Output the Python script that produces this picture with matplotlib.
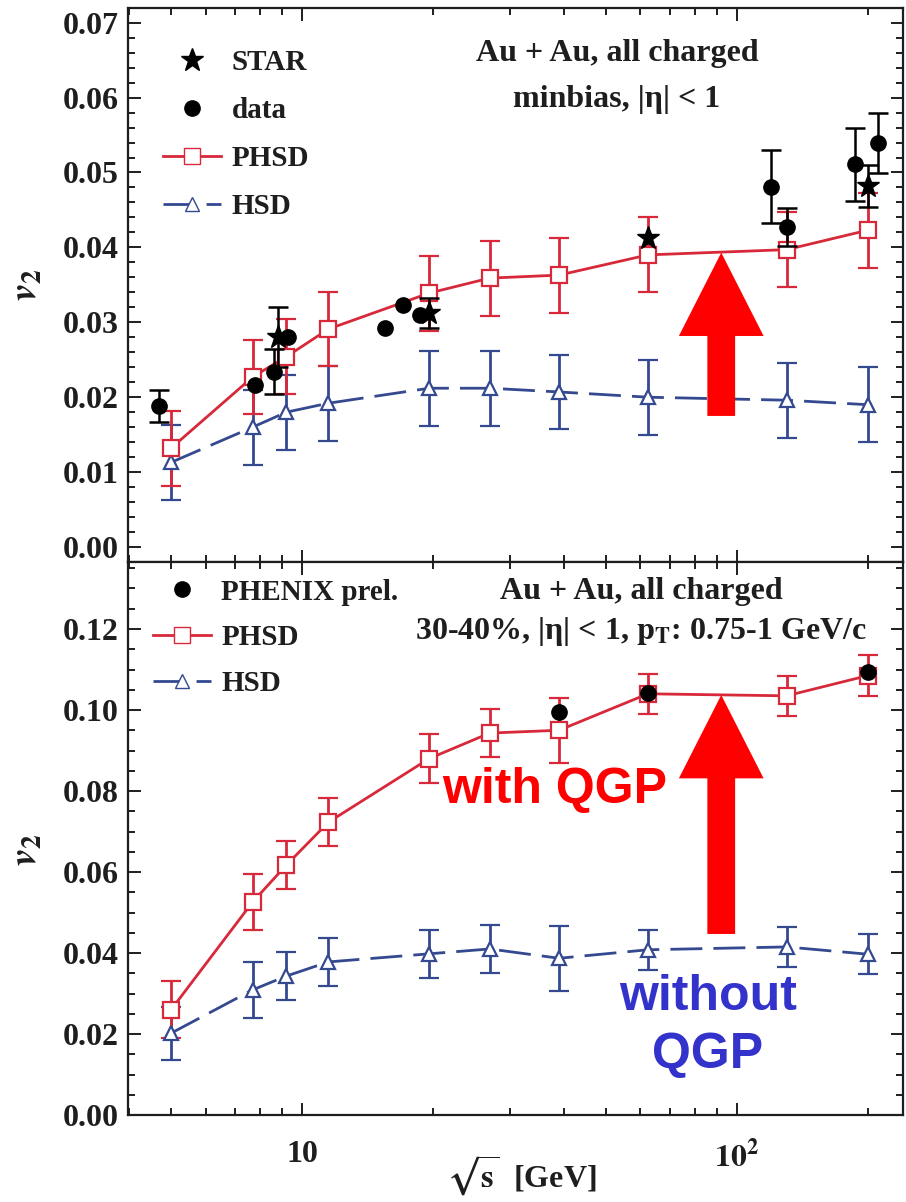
import numpy as np
import matplotlib
matplotlib.use("Agg")
import matplotlib.pyplot as plt
from matplotlib.lines import Line2D
from matplotlib.patches import FancyArrowPatch
from matplotlib.ticker import MultipleLocator, FixedLocator, NullFormatter

plt.rcParams["font.family"] = ["Liberation Serif", "DejaVu Serif"]
plt.rcParams["font.weight"] = "bold"
plt.rcParams["mathtext.fontset"] = "stix"

# collision energies of the transport calculations (GeV)
energy = [5.0, 7.7, 9.2, 11.5, 19.6, 27, 39, 62.4, 130, 200]

# minimum-bias v2, |eta| < 1
phsd_minbias = [0.0132, 0.0227, 0.0254, 0.0291, 0.0339, 0.0359, 0.0363, 0.0390, 0.0397, 0.0423]
phsd_minbias_err = [0.005, 0.005, 0.005, 0.005, 0.005, 0.005, 0.005, 0.005, 0.005, 0.005]
hsd_minbias = [0.0113, 0.0160, 0.0180, 0.0192, 0.0212, 0.0212, 0.0207, 0.0200, 0.0196, 0.0190]
hsd_minbias_err = [0.005, 0.005, 0.005, 0.005, 0.005, 0.005, 0.005, 0.005, 0.005, 0.005]

star_energy = [8.8, 19.6, 62.4, 200]
star_v2 = [0.0280, 0.0312, 0.0412, 0.0482]
star_err = [0.0040, 0.0020, 0.0, 0.0028]

data_energy = [4.7, 7.8, 8.6, 9.3, 15.5, 17.1, 18.7, 120, 130, 187, 211]
data_v2 = [0.0188, 0.0216, 0.0234, 0.0280, 0.0292, 0.0323, 0.0310, 0.0481, 0.0427, 0.0511, 0.0539]
data_err = [0.0021, 0.0, 0.0030, 0.0, 0.0, 0.0, 0.0, 0.0049, 0.0025, 0.0049, 0.0040]

# 30-40% centrality, pT 0.75-1 GeV/c
phsd_central = [0.0260, 0.0526, 0.0617, 0.0723, 0.0880, 0.0943, 0.0950, 0.1040, 0.1035, 0.1085]
phsd_central_err = [0.007, 0.007, 0.006, 0.006, 0.006, 0.006, 0.008, 0.005, 0.005, 0.005]
hsd_central = [0.0202, 0.0309, 0.0343, 0.0378, 0.0398, 0.0410, 0.0387, 0.0408, 0.0415, 0.0397]
hsd_central_err = [0.0065, 0.007, 0.006, 0.006, 0.006, 0.006, 0.008, 0.005, 0.005, 0.005]

phenix_energy = [39, 62.4, 200]
phenix_v2 = [0.0995, 0.1042, 0.1094]

RED = "#d8293a"
BLUE = "#34498f"
INK = "#1e1e1e"

W, H = 906, 1202
fig = plt.figure(figsize=(W / 100, H / 100), dpi=100)


def frac_box(x0, y0, x1, y1):
    return [x0 / W, 1 - y1 / H, (x1 - x0) / W, (y1 - y0) / H]


ax1 = fig.add_axes(frac_box(128, 8, 903, 562))
ax2 = fig.add_axes(frac_box(128, 562, 903, 1115))


def draw_model(ax, y, yerr, color, marker, dashed, ms):
    eb = ax.errorbar(energy, y, yerr=yerr, fmt="-" + marker, color=color,
                     mfc="white", mec=color, mew=1.6, ms=ms, capsize=7,
                     elinewidth=2.0, capthick=2.0, lw=2.0, zorder=3)
    if dashed:
        eb[0].set_dashes([11.5, 4.0])
    return eb


def draw_measured(ax, x, y, err, marker, ms, zorder):
    x, y, err = np.asarray(x), np.asarray(y), np.asarray(err)
    has_err = err > 0
    ax.errorbar(x[has_err], y[has_err], yerr=err[has_err], fmt=marker,
                color="black", ms=ms, capsize=7, elinewidth=1.8,
                capthick=1.8, zorder=zorder)
    ax.plot(x[~has_err], y[~has_err], marker, color="black", ms=ms,
            zorder=zorder)


for ax in (ax1, ax2):
    ax.set_xscale("log")
    ax.set_xlim(3.98, 240.8)
    ax.xaxis.set_major_locator(FixedLocator([10, 100]))
    ax.xaxis.set_minor_locator(FixedLocator(
        [4, 5, 6, 7, 8, 9, 20, 30, 40, 50, 60, 70, 80, 90, 200]))
    ax.xaxis.set_minor_formatter(NullFormatter())
    ax.tick_params(which="both", direction="in", top=True, right=True,
                   colors=INK, labelsize=23, width=1.4)
    ax.tick_params(which="major", length=9)
    ax.tick_params(which="minor", length=5)
    ax.tick_params(axis="y", pad=7)
    for sp in ax.spines.values():
        sp.set_linewidth(1.6)
        sp.set_color(INK)

# ---- upper panel: minimum bias ----
draw_model(ax1, hsd_minbias, hsd_minbias_err, BLUE, "^", True, 10)
draw_model(ax1, phsd_minbias, phsd_minbias_err, RED, "s", False, 11)
draw_measured(ax1, data_energy, data_v2, data_err, "o", 11, 5)
draw_measured(ax1, star_energy, star_v2, star_err, "*", 17, 6)
ax1.set_ylim(-0.002, 0.07196)
ax1.yaxis.set_minor_locator(MultipleLocator(0.002))
ticks1 = np.arange(0, 0.0701, 0.01)
ax1.set_yticks(ticks1)
ax1.set_yticklabels([f"{v:.2f}" for v in ticks1], fontweight="bold")
ax1.set_xticklabels([])

leg1_handles = [
    Line2D([], [], ls="none", marker="*", color="black", ms=17),
    Line2D([], [], ls="none", marker="o", color="black", ms=11),
    Line2D([], [], color=RED, lw=2.0, marker="s", mfc="white", mec=RED, ms=11),
    Line2D([], [], color=BLUE, lw=2.0, marker="^", mfc="white", mec=BLUE, ms=10,
           dashes=[11.5, 4.0]),
]
leg1 = ax1.legend(leg1_handles, ["STAR", "data", "PHSD", "HSD"], loc="upper left",
                  bbox_to_anchor=(0.045, 0.926), frameon=False, borderpad=0,
                  borderaxespad=0, handlelength=2.0, handletextpad=0.35,
                  labelspacing=0.72, prop={"size": 21, "weight": "bold"})
for t in leg1.get_texts():
    t.set_color(INK)

# ---- lower panel: 30-40% ----
draw_model(ax2, hsd_central, hsd_central_err, BLUE, "^", True, 10)
draw_model(ax2, phsd_central, phsd_central_err, RED, "s", False, 11)
ax2.plot(phenix_energy, phenix_v2, "o", color="black", ms=11, zorder=5)
ax2.set_ylim(0, (1115 - 562) / 4050)
ticks2 = np.arange(0, 0.1201, 0.02)
ax2.set_yticks(ticks2)
ax2.set_yticklabels([f"{v:.2f}" for v in ticks2], fontweight="bold")
ax2.yaxis.set_minor_locator(MultipleLocator(0.005))
ax2.set_xticklabels(["10", r"$\mathbf{10^2}$"], fontweight="bold")
ax2.tick_params(axis="x", pad=18)

leg2_handles = [
    Line2D([], [], ls="none", marker="o", color="black", ms=11),
    Line2D([], [], color=RED, lw=2.0, marker="s", mfc="white", mec=RED, ms=11),
    Line2D([], [], color=BLUE, lw=2.0, marker="^", mfc="white", mec=BLUE, ms=10,
           dashes=[11.5, 4.0]),
]
leg2 = ax2.legend(leg2_handles, ["PHENIX prel.", "PHSD", "HSD"], loc="upper left",
                  bbox_to_anchor=(0.032, 0.97), frameon=False, borderpad=0,
                  borderaxespad=0, handlelength=2.0, handletextpad=0.35,
                  labelspacing=0.64, prop={"size": 21, "weight": "bold"})
for t in leg2.get_texts():
    t.set_color(INK)

# arrows marking the QGP effect at sqrt(s) ~ 92 GeV
for ax, y_tail, y_tip in ((ax1, 0.0175, 0.0393), (ax2, 0.0447, 0.1037)):
    arr = FancyArrowPatch((92, y_tail), (92, y_tip),
                          arrowstyle="simple,head_length=60,head_width=61,tail_width=20",
                          mutation_scale=1, color="#ff0000", lw=0,
                          shrinkA=0, shrinkB=0, zorder=7)
    ax.add_patch(arr)


def ftext(px, py, s, **kw):
    fig.text(px / W, 1 - py / H, s, ha="center", va="center", **kw)


ftext(617, 53, "Au + Au, all charged", fontsize=23, fontweight="bold", color=INK)
ftext(617, 100, "minbias, |η| < 1", fontsize=23, fontweight="bold", color=INK)
ftext(641, 591, "Au + Au, all charged", fontsize=23, fontweight="bold", color=INK)
ftext(641, 631, r"30-40%, |η| < 1, $\mathbf{p}_{\mathbf{T}}$: 0.75-1 GeV/c",
      fontsize=23, fontweight="bold", color=INK)

ftext(555, 790, "with QGP", fontsize=36, fontweight="bold", color="#ff0000",
      family="Liberation Sans")
ftext(708, 1026, "without\nQGP", fontsize=36, fontweight="bold", color="#3333cc",
      family="Liberation Sans", linespacing=1.35)

ftext(27, 285, r"$v_2$", fontsize=28, rotation=90, color=INK)
ftext(27, 850, r"$v_2$", fontsize=28, rotation=90, color=INK)
ftext(521, 1176, r"$\sqrt{\mathbf{s}}$  [GeV]", fontsize=23, fontweight="bold",
      color=INK)

fig.savefig("out.png", dpi=100)
